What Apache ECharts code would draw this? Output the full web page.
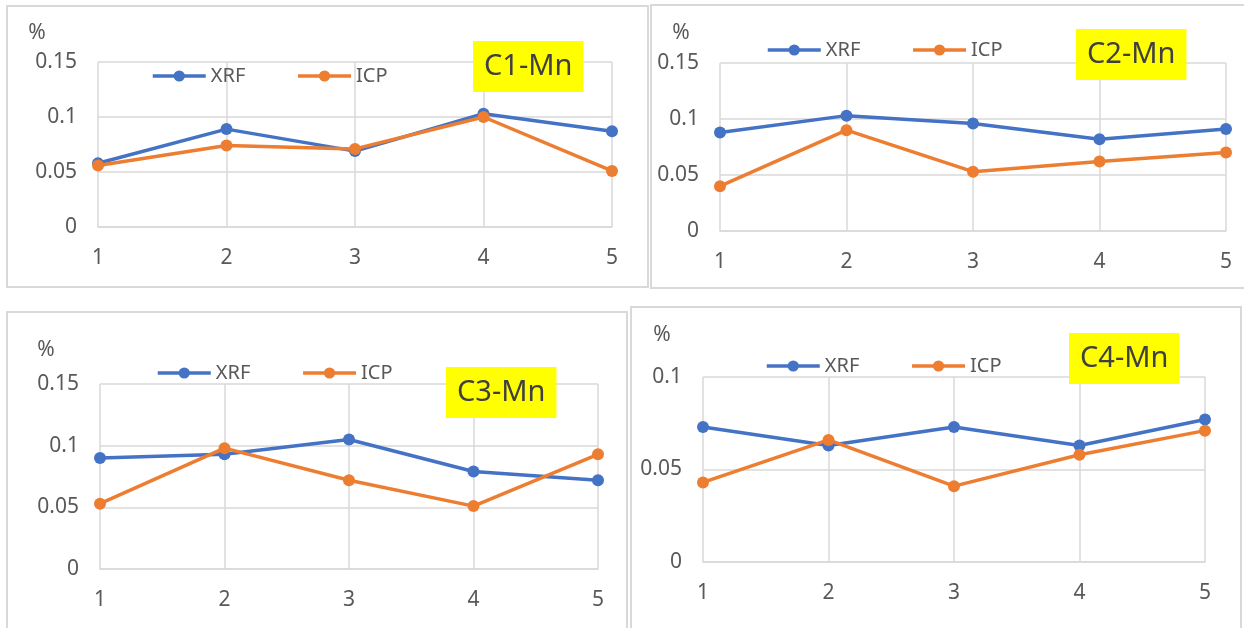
<!DOCTYPE html>
<html>
<head>
<meta charset="utf-8">
<title>Mn XRF vs ICP</title>
<script src="https://cdn.jsdelivr.net/npm/echarts@6/dist/echarts.min.js"></script>
<style>
  html, body { margin: 0; padding: 0; background: #fff; }
  #chart { width: 1244px; height: 628px; }
</style>
</head>
<body>
<div id="chart"></div>
<script>
// sample numbers on the x axis
const categories = ['1', '2', '3', '4', '5']

// Mn content, %
const c1Xrf = [0.058, 0.089, 0.069, 0.103, 0.087]
const c1Icp = [0.056, 0.074, 0.071, 0.100, 0.051]
const c2Xrf = [0.088, 0.103, 0.096, 0.082, 0.091]
const c2Icp = [0.040, 0.090, 0.053, 0.062, 0.070]
const c3Xrf = [0.090, 0.093, 0.105, 0.079, 0.072]
const c3Icp = [0.053, 0.098, 0.072, 0.051, 0.093]
const c4Xrf = [0.073, 0.063, 0.073, 0.063, 0.077]
const c4Icp = [0.043, 0.066, 0.041, 0.058, 0.071]

const titles = ['C1-Mn', 'C2-Mn', 'C3-Mn', 'C4-Mn']
const yMax = [0.15, 0.15, 0.15, 0.1]

const FONT = '"Noto Sans", "Open Sans", sans-serif'
const TEXT = '#595959'
const GRIDLINE = '#d9d9d9'
const BLUE = '#4472C4'
const ORANGE = '#ED7D31'

// panel layout (px)
const panels = [
  { grid: { left: 98, top: 62, width: 514, height: 165 }, box: [7, 6, 641, 281], pct: [37, 33], legend: [151, 66], title: [473, 41] },
  { grid: { left: 720, top: 63, width: 506, height: 168 }, box: [651, 5, 600, 283], pct: [681, 33], legend: [766, 40], title: [1076, 29] },
  { grid: { left: 100, top: 384, width: 498, height: 185 }, box: [7, 312, 620, 330], pct: [46, 350], legend: [156, 363], title: [446, 367] },
  { grid: { left: 703, top: 377, width: 502, height: 185 }, box: [631, 307, 610, 330], pct: [662, 335], legend: [765, 356], title: [1069, 333] }
]

const seriesData = [[c1Xrf, c1Icp], [c2Xrf, c2Icp], [c3Xrf, c3Icp], [c4Xrf, c4Icp]]

const grid = [], xAxis = [], yAxis = [], series = [], legend = [], title = [], graphic = []

panels.forEach((p, i) => {
  grid.push(Object.assign({ containLabel: false }, p.grid))

  xAxis.push({
    type: 'category',
    gridIndex: i,
    data: categories,
    boundaryGap: false,
    axisLine: { lineStyle: { color: GRIDLINE, width: 1.5 } },
    axisTick: { show: false },
    axisLabel: { color: TEXT, fontSize: 21, fontFamily: FONT, margin: 21 },
    splitLine: { show: true, lineStyle: { color: GRIDLINE, width: 1.5 } }
  })

  yAxis.push({
    type: 'value',
    gridIndex: i,
    min: 0,
    max: yMax[i],
    interval: 0.05,
    axisLine: { show: false },
    axisTick: { show: false },
    axisLabel: { color: TEXT, fontSize: 21, fontFamily: FONT, margin: 21 },
    splitLine: { lineStyle: { color: GRIDLINE, width: 1.5 } }
  })

  series.push({
    name: 'XRF', type: 'line', xAxisIndex: i, yAxisIndex: i,
    data: seriesData[i][0],
    symbol: 'circle', symbolSize: 12,
    lineStyle: { width: 3.5, color: BLUE },
    itemStyle: { color: BLUE },
    z: 3
  })
  series.push({
    name: 'ICP', type: 'line', xAxisIndex: i, yAxisIndex: i,
    data: seriesData[i][1],
    symbol: 'circle', symbolSize: 12,
    lineStyle: { width: 3.5, color: ORANGE },
    itemStyle: { color: ORANGE },
    z: 4
  })

  legend.push({
    left: p.legend[0],
    top: p.legend[1],
    itemWidth: 53,
    itemHeight: 14,
    itemGap: 51,
    padding: 0,
    data: ['XRF', 'ICP'],
    lineStyle: { width: 3.5 },
    textStyle: { color: TEXT, fontSize: 20, fontFamily: FONT }
  })

  title.push({
    text: titles[i],
    left: p.title[0],
    top: p.title[1],
    backgroundColor: '#FFFF00',
    padding: [11, 11, 11, 11],
    textStyle: { color: '#404040', fontSize: 29, fontWeight: 'normal', fontFamily: FONT, lineHeight: 29 }
  })

  graphic.push({
    type: 'rect',
    silent: true,
    z: -10,
    shape: { x: p.box[0], y: p.box[1], width: p.box[2], height: p.box[3] },
    style: { fill: null, stroke: GRIDLINE, lineWidth: 2 }
  })
  graphic.push({
    type: 'text',
    silent: true,
    x: p.pct[0],
    y: p.pct[1],
    style: { text: '%', fill: TEXT, fontSize: 21, fontFamily: FONT, align: 'center', verticalAlign: 'middle' }
  })
})

const option = {
  animation: false,
  backgroundColor: '#fff',
  title: title,
  legend: legend,
  grid: grid,
  xAxis: xAxis,
  yAxis: yAxis,
  series: series,
  graphic: graphic
}

const chart = echarts.init(document.getElementById('chart'))
chart.setOption(option)
</script>
</body>
</html>
